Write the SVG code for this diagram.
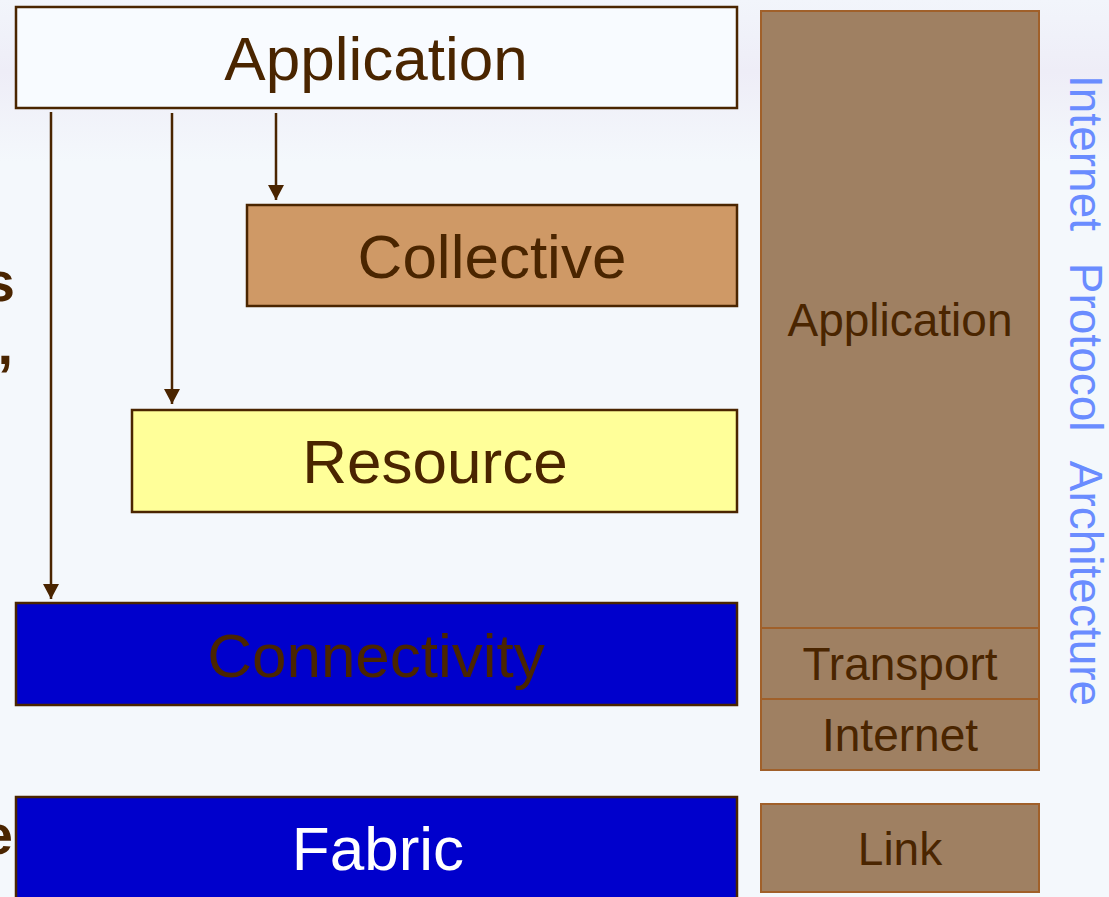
<svg xmlns="http://www.w3.org/2000/svg" width="1109" height="897" viewBox="0 0 1109 897">
<defs>
<marker id="ah" markerWidth="16" markerHeight="16" viewBox="0 0 16 16" refX="15" refY="8" orient="auto" markerUnits="userSpaceOnUse">
<path d="M0,0 L15,8 L0,16 Z" fill="#4a2500"/>
</marker>
<linearGradient id="bg" x1="0" y1="0" x2="0" y2="1">
<stop offset="0" stop-color="#f2f5fb"/>
<stop offset="0.08" stop-color="#eeedf7"/>
<stop offset="0.18" stop-color="#f4f8fc"/>
<stop offset="1" stop-color="#f4f8fc"/>
</linearGradient>
</defs>
<style>
.t{font-family:"Liberation Sans",Arial,sans-serif;fill:#4a2500;text-anchor:middle}
.big{font-size:62px}
.sm{font-size:46px}
.box{stroke:#4a2500;stroke-width:2.5}
.ip{fill:#9f8062;stroke:#a0602a;stroke-width:2}
.conn{stroke:#4a2500;stroke-width:2.5;fill:none}
.cut{font-family:"Liberation Sans",Arial,sans-serif;font-weight:bold;font-size:56px;fill:#4a2500;text-anchor:end}
</style>
<rect x="0" y="0" width="1109" height="897" fill="url(#bg)"/>
<text class="cut" x="15" y="301">s</text>
<text class="cut" x="13" y="364">,</text>
<text class="cut" x="13" y="854">e</text>
<g id="connectors">
<line class="conn" x1="51" y1="112" x2="51" y2="599" marker-end="url(#ah)"/>
<line class="conn" x1="172" y1="113" x2="172" y2="404" marker-end="url(#ah)"/>
<line class="conn" x1="276" y1="113" x2="276" y2="200" marker-end="url(#ah)"/>
</g>
<g id="application">
<rect class="box" x="16" y="7" width="721" height="101" fill="#f8fbff"/>
<text class="t big" x="376" y="80">Application</text>
</g>
<g id="collective">
<rect class="box" x="247" y="205" width="490" height="101" fill="#cf9966"/>
<text class="t big" x="492" y="278">Collective</text>
</g>
<g id="resource">
<rect class="box" x="132" y="410" width="605" height="102" fill="#ffff99"/>
<text class="t big" x="435" y="483">Resource</text>
</g>
<g id="connectivity">
<rect class="box" x="16" y="603" width="721" height="102" fill="#0000cc"/>
<text class="t big" x="376" y="677">Connectivity</text>
</g>
<g id="fabric">
<rect class="box" x="16" y="797" width="721" height="110" fill="#0000cc"/>
<text class="t big" x="378" y="870" style="fill:#ffffff">Fabric</text>
</g>
<g id="ip-application">
<rect class="ip" x="761" y="11" width="278" height="617"/>
<text class="t sm" x="900" y="336">Application</text>
</g>
<g id="ip-transport">
<rect class="ip" x="761" y="628" width="278" height="71"/>
<text class="t sm" x="900" y="680">Transport</text>
</g>
<g id="ip-internet">
<rect class="ip" x="761" y="699" width="278" height="71"/>
<text class="t sm" x="900" y="751">Internet</text>
</g>
<g id="ip-link">
<rect class="ip" x="761" y="804" width="278" height="88"/>
<text class="t sm" x="900" y="865">Link</text>
</g>
<g id="ip-label">
<text transform="translate(1070,75) rotate(90)" x="0" y="0" style="font-family:'Liberation Sans',Arial,sans-serif;font-size:46px;fill:#6a8cff;word-spacing:19px">Internet Protocol Architecture</text>
</g>
</svg>
